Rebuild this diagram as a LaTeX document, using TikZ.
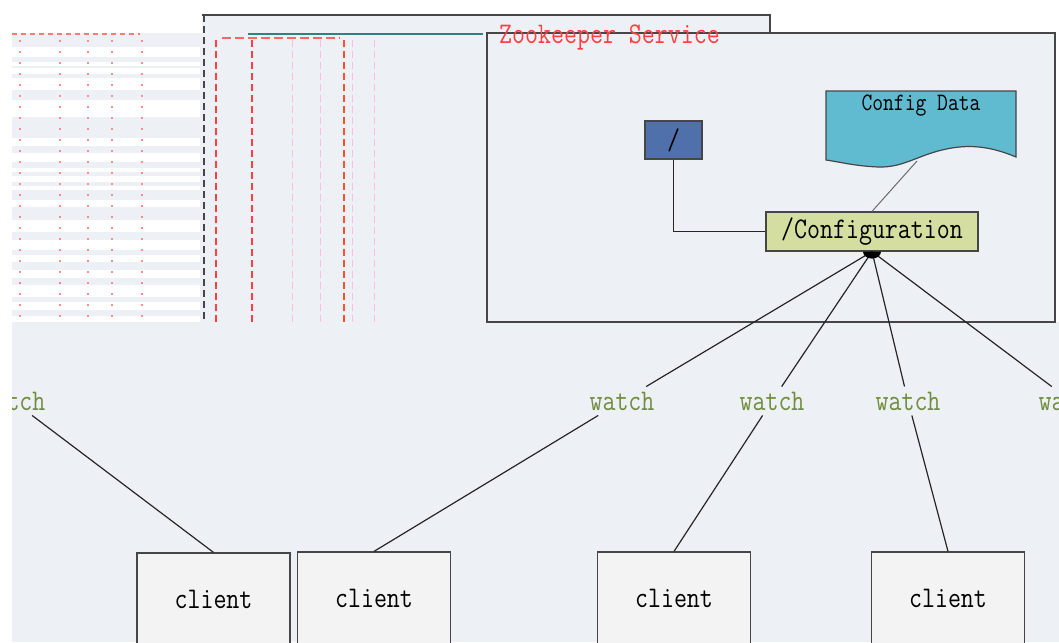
\documentclass[tikz,border=0pt]{standalone}
\usepackage{graphicx}
\usetikzlibrary{positioning}
\definecolor{zkbg}{RGB}{237,240,245}
\definecolor{rootblue}{RGB}{80,112,172}
\definecolor{datacyan}{RGB}{96,186,208}
\definecolor{confgreen}{RGB}{212,222,160}
\definecolor{clientgray}{RGB}{243,243,243}
\definecolor{watchgreen}{RGB}{112,142,62}
\definecolor{titlered}{RGB}{255,64,64}
\definecolor{edgegray}{RGB}{70,70,70}
\newcommand\zktext[1]{\scalebox{0.84}[1]{#1}}

\begin{document}
\begin{tikzpicture}[x=1pt,y=-1pt,
    zkbox/.style={draw=edgegray, line width=1.2pt, font=\ttfamily\fontsize{30}{32}\selectfont, inner sep=0pt},
    clientbox/.style={zkbox, fill=clientgray, minimum width=153, minimum height=92},
    watchlabel/.style={text=watchgreen, font=\ttfamily\fontsize{30}{32}\selectfont, inner sep=5pt},
    ghost/.style={line width=1.4pt, dash pattern=on 7pt off 4pt},
    link/.style={draw=black!85, line width=1.2pt}]
    \useasboundingbox (0,0) rectangle (1059,642);
    \fill[white] (0,0) rectangle (1059,642);
    \fill[zkbg] (12,33) rectangle (1059,642);
    \fill[zkbg] (202,15) rectangle (770,33);
    \fill[white] (1055,33) rectangle (1059,322);
    % left ghost of the service box
    \foreach \a/\b in {47/57,62/66,68/74,78/90,100/117,138/146,153/162,168/172,176/182,186/190,200/207,220/232,240/250,255/262,270/278,285/297,302/310,316/322}
        \fill[white] (12,\a) rectangle (200,\b);
    \foreach \x in {20,60,88,112,142}
        \draw[titlered!60, line width=1.2pt, dash pattern=on 2pt off 9pt] (\x,40) -- (\x,322);
    \draw[titlered!70, line width=1.2pt, dash pattern=on 5pt off 4pt] (12,34) -- (140,34);
    \draw[edgegray, ghost] (204,15) -- (204,322);
    \draw[titlered, ghost] (216,40) -- (216,322);
    \draw[titlered, ghost] (252,40) -- (252,322);
    \draw[titlered!80!orange, ghost] (344,40) -- (344,322);
    \foreach \x in {292,320,352,374}
        \draw[magenta!25, ghost, line width=1pt] (\x,40) -- (\x,322);
    \draw[titlered!80, line width=1.4pt, dash pattern=on 9pt off 4pt] (222,38) -- (340,38);
    \draw[edgegray, line width=1.2pt] (202,15) -- (770,15) -- (770,33);
    \draw[teal!60!gray, line width=1.2pt] (248,34) -- (483,34);

    \node[draw=edgegray, line width=1.5pt, minimum width=568, minimum height=289, inner sep=0pt] (service) at (771,177.5) {};
    \node[anchor=east, text=titlered, font=\ttfamily\fontsize{30}{32}\selectfont, inner sep=0pt] (title) at (720,37) {\zktext{Zookeeper Service}};

    \node[zkbox, fill=rootblue, minimum width=57, minimum height=38] (root) at (673.5,140) {\zktext{/}};
    \node[zkbox, fill=confgreen, minimum width=212, minimum height=39] (conf) at (872,231.5) {\zktext{/Configuration}};
    % config data document
    \filldraw[draw=edgegray, fill=datacyan, line width=1.2pt] (826,91) -- (1016,91) -- (1016,157)
        .. controls (990,146) and (970,145) .. (952,148)
        .. controls (920,153) and (905,168) .. (878,167)
        .. controls (855,166) and (840,162) .. (826,160) -- cycle;
    \node[font=\ttfamily\fontsize{25}{27}\selectfont, inner sep=0pt] (cfgdata) at (921,106) {\zktext{Config Data}};
    \coordinate (cfgtail) at (917,161);

    \node[watchlabel] (w0) at (13,401) {\zktext{watch}};
    \node[watchlabel] (w1) at (622,401) {\zktext{watch}};
    \node[watchlabel] (w2) at (772,401) {\zktext{watch}};
    \node[watchlabel] (w3) at (908,401) {\zktext{watch}};
    \node[watchlabel] (w4) at (1071,401) {\zktext{watch}};

    \node[clientbox] (c1) at (213.5,599) {\zktext{client}};
    \node[clientbox] (c2) at (374,598) {\zktext{client}};
    \node[clientbox] (c3) at (674,598) {\zktext{client}};
    \node[clientbox] (c4) at (948,598) {\zktext{client}};

    \draw[link] (root.south) |- (conf.west);
    \draw[link, draw=edgegray!80, line width=1pt] (cfgtail) -- (conf.north);
    \foreach \w in {w1,w2,w3,w4}
        \draw[link] (conf.south) -- (\w);
    \fill (conf.south) ++(-9pt,0) arc[start angle=180, end angle=360, x radius=9pt, y radius=7pt] -- cycle;
    \draw[link] (w0) -- (c1.north);
    \draw[link] (w1) -- (c2.north);
    \draw[link] (w2) -- (c3.north);
    \draw[link] (w3) -- (c4.north);

    \fill[white] (0,0) rectangle (12,642);
\end{tikzpicture}
\end{document}
